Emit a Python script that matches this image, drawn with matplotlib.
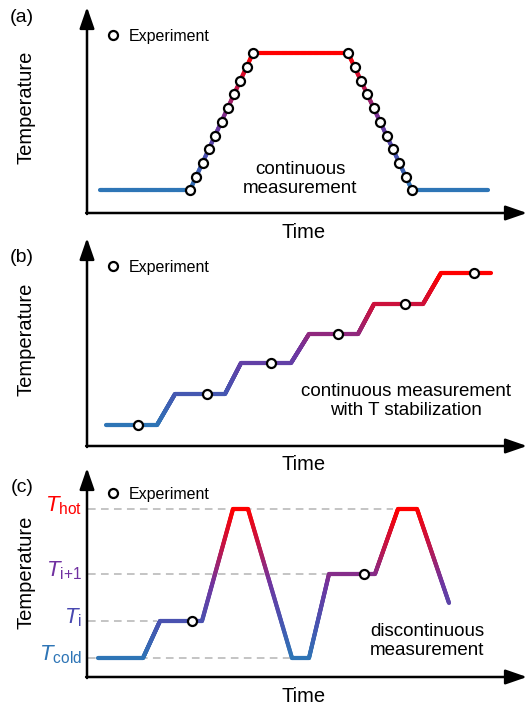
import numpy as np
import matplotlib
matplotlib.use('Agg')
import matplotlib.pyplot as plt
from matplotlib.collections import LineCollection
from matplotlib.colors import LinearSegmentedColormap, Normalize

plt.rcParams['font.family'] = ['Liberation Sans', 'DejaVu Sans']
plt.rcParams['mathtext.fontset'] = 'custom'
plt.rcParams['mathtext.rm'] = 'Liberation Sans'
plt.rcParams['mathtext.it'] = 'Liberation Sans:italic'

# (a) continuous measurement (time, temperature in arbitrary units)
a_time = [1.3, 10.3, 16.6, 26.1, 32.5, 40.1]
a_temp = [2.3, 2.3, 16.0, 16.0, 2.3, 2.3]
a_exp_time = [10.3, 10.9, 11.6, 12.2, 12.8, 13.5, 14.1, 14.7, 15.3, 16.0, 16.6,
              26.1, 26.8, 27.4, 28.0, 28.7, 29.3, 30.0, 30.6, 31.2, 31.9, 32.5]
a_exp_temp = [2.3, 3.6, 5.0, 6.4, 7.7, 9.1, 10.5, 11.9, 13.2, 14.6, 16.0,
              16.0, 14.6, 13.2, 11.9, 10.5, 9.1, 7.7, 6.4, 5.0, 3.6, 2.3]

# (b) continuous measurement with T stabilization
b_time = [1.9, 7.0, 8.8, 13.8, 15.4, 20.4, 22.2, 27.1, 28.7, 33.6, 35.4, 40.4]
b_temp = [2.1, 2.1, 5.2, 5.2, 8.3, 8.3, 11.2, 11.2, 14.2, 14.2, 17.3, 17.3]
b_exp_time = [5.1, 12.0, 18.4, 25.1, 31.8, 38.7]
b_exp_temp = [2.1, 5.2, 8.3, 11.2, 14.2, 17.3]

# (c) discontinuous measurement
c_time = [1.1, 5.6, 7.3, 11.5, 14.6, 16.1, 20.5, 22.2, 24.2, 28.8, 31.1, 33.0, 36.2]
c_temp = [1.9, 1.9, 5.6, 5.6, 16.8, 16.8, 1.9, 1.9, 10.3, 10.3, 16.8, 16.8, 7.4]
c_exp_time = [10.5, 27.7]
c_exp_temp = [5.6, 10.3]
c_levels = [16.8, 10.3, 5.6, 1.9]
c_level_end = [30.6, 24.1, 7.0, 20.3]
c_level_labels = [r'$T_{\mathrm{hot}}$', r'$T_{\mathrm{i{+}1}}$', r'$T_{\mathrm{i}}$', r'$T_{\mathrm{cold}}$']
c_level_colors = ['#ff0000', '#7030a0', '#4848b0', '#2e75b6']

cmap = LinearSegmentedColormap.from_list(
    'temp', ['#2e75b6', '#4a52b0', '#7035a0', '#c0154a', '#ff0000'])

W, H = 527, 709
fig = plt.figure(figsize=(W / 100, H / 100), dpi=100)


def px_axes(left, top, right, bottom):
    return fig.add_axes([left / W, 1 - bottom / H, (right - left) / W, (bottom - top) / H])


def gradient_line(ax, t, T, lw=3.0, n=80):
    norm = Normalize(min(T), max(T))
    xs, ys = [], []
    for i in range(len(t) - 1):
        s = np.linspace(0, 1, n, endpoint=False)
        xs.append(t[i] + s * (t[i + 1] - t[i]))
        ys.append(T[i] + s * (T[i + 1] - T[i]))
    x = np.append(np.concatenate(xs), t[-1])
    y = np.append(np.concatenate(ys), T[-1])
    pts = np.column_stack([x, y]).reshape(-1, 1, 2)
    segs = np.concatenate([pts[:-1], pts[1:]], axis=1)
    mid = (y[:-1] + y[1:]) / 2
    lc = LineCollection(segs, colors=cmap(norm(mid)), linewidths=lw,
                        capstyle='round', joinstyle='round', zorder=3)
    ax.add_collection(lc)


def setup(ax, ylim):
    ax.set_xlim(0, 44.0)
    ax.set_ylim(0, ylim)
    for s in ax.spines.values():
        s.set_visible(False)
    ax.set_xticks([])
    ax.set_yticks([])
    ax.patch.set_alpha(0)
    arrow = dict(arrowstyle='-|>,head_length=1.3,head_width=0.45', lw=1.8,
                 color='k', mutation_scale=10, shrinkA=0, shrinkB=0)
    ax.annotate('', xy=(0, 1), xytext=(0, -0.005), xycoords='axes fraction',
                arrowprops=arrow, annotation_clip=False)
    ax.annotate('', xy=(1, 0), xytext=(-0.002, 0), xycoords='axes fraction',
                arrowprops=arrow, annotation_clip=False)


def experiment(ax, t, T, anchor):
    ax.plot(t, T, 'o', ms=6.5, mfc='white', mec='black', mew=1.6, zorder=5,
            label='Experiment', clip_on=False)
    ax.legend(loc='upper left', bbox_to_anchor=anchor, frameon=False,
              handlelength=0.8, handletextpad=0.6, borderpad=0, borderaxespad=0,
              fontsize=11.5)


def fig_text(x, y, s, **kw):
    fig.text(x / W, 1 - y / H, s, ha='center', va='center', **kw)


# panel (a)
ax_a = px_axes(87, 7, 527, 213)
setup(ax_a, 20.6)
gradient_line(ax_a, a_time, a_temp)
experiment(ax_a, a_exp_time, a_exp_temp, (0.045, 0.893))
ax_a.text(21.3, 3.4, 'continuous\nmeasurement', ha='center', va='center',
          fontsize=13.5, linespacing=1.1)

# panel (b)
ax_b = px_axes(87, 238, 527, 446)
setup(ax_b, 20.8)
gradient_line(ax_b, b_time, b_temp)
experiment(ax_b, b_exp_time, b_exp_temp, (0.045, 0.894))
ax_b.text(31.9, 4.5, 'continuous measurement\nwith T stabilization', ha='center',
          va='center', fontsize=13.5, linespacing=1.1)

# panel (c)
ax_c = px_axes(87, 468, 527, 677)
setup(ax_c, 20.9)
for lev, end, lab, col in zip(c_levels, c_level_end, c_level_labels, c_level_colors):
    ax_c.plot([0.1, end], [lev, lev], color='#b4b4b4', lw=1.1, ls=(0, (5, 3.5)), zorder=1)
    ax_c.text(-0.5, lev + 0.3, lab, ha='right', va='center', fontsize=16,
              color=col, clip_on=False)
gradient_line(ax_c, c_time, c_temp)
experiment(ax_c, c_exp_time, c_exp_temp, (0.045, 0.909))
ax_c.text(34.0, 3.6, 'discontinuous\nmeasurement', ha='center', va='center',
          fontsize=13.5, linespacing=1.1)

# outside labels
for lab, y in [('(a)', 18), ('(b)', 257), ('(c)', 487)]:
    fig_text(22, y, lab, fontsize=14)
for y in [107, 339, 572]:
    fig_text(26, y, 'Temperature', fontsize=14.5, rotation=90)
for y in [233, 464, 697]:
    fig_text(304, y, 'Time', fontsize=14.5)

fig.savefig('out.png', dpi=100)
